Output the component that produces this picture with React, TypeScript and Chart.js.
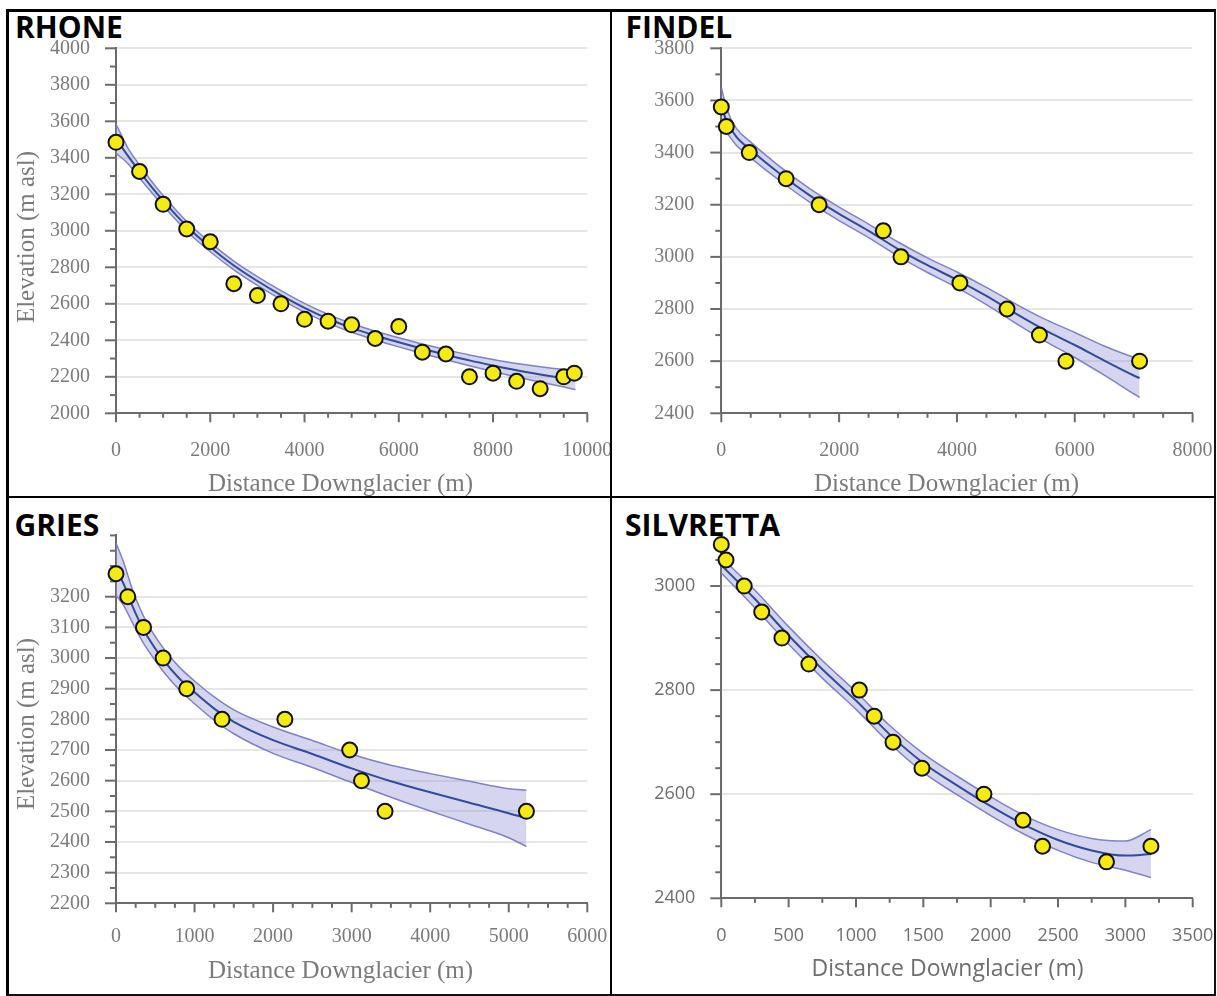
import React, { useEffect, useRef } from "react";
import { Chart, registerables } from "chart.js";

Chart.register(...registerables);

// ---------------- RHONE ----------------
const rhoneDist = [0, 500, 1000, 1500, 2000, 2500, 3000, 3500, 4000, 4500, 5000, 5500, 6000, 6500, 7000, 7500, 8000, 8500, 9000, 9500, 9725];
const rhoneElev = [3485, 3325, 3145, 3010, 2940, 2710, 2645, 2600, 2515, 2505, 2485, 2410, 2475, 2335, 2325, 2200, 2220, 2175, 2135, 2200, 2220];
const rhoneFitDist = [0, 250, 500, 750, 1000, 1500, 2000, 2500, 3000, 3500, 4000, 4500, 5000, 5500, 6000, 6500, 7000, 7500, 8000, 8500, 9000, 9500, 9750];
const rhoneFit = [3505, 3412, 3325, 3242, 3165, 3025, 2910, 2810, 2725, 2648, 2578, 2518, 2468, 2426, 2389, 2354, 2321, 2290, 2262, 2236, 2213, 2192, 2182];
const rhoneUpper = [3585, 3455, 3361, 3273, 3193, 3051, 2935, 2834, 2749, 2672, 2602, 2542, 2492, 2450, 2414, 2380, 2349, 2320, 2295, 2273, 2255, 2240, 2234];
const rhoneLower = [3425, 3369, 3289, 3211, 3137, 2999, 2885, 2786, 2701, 2624, 2554, 2494, 2444, 2402, 2364, 2328, 2293, 2260, 2229, 2199, 2171, 2144, 2130];
const rhoneXTicks = [0, 2000, 4000, 6000, 8000, 10000];
const rhoneYTicks = [2000, 2200, 2400, 2600, 2800, 3000, 3200, 3400, 3600, 3800, 4000];

// ---------------- FINDEL ----------------
const findelDist = [0, 85, 475, 1100, 1660, 2750, 3050, 4050, 4850, 5400, 5850, 7100];
const findelElev = [3575, 3500, 3400, 3300, 3200, 3100, 3000, 2900, 2800, 2700, 2600, 2600];
const findelFitDist = [0, 100, 250, 500, 1000, 1500, 2000, 2500, 3000, 3500, 4000, 4500, 5000, 5500, 6000, 6500, 7000, 7100];
const findelFit = [3572, 3518, 3462, 3410, 3318, 3236, 3165, 3100, 3030, 2968, 2912, 2850, 2782, 2718, 2662, 2602, 2545, 2535];
const findelUpper = [3650, 3563, 3495, 3440, 3345, 3262, 3191, 3126, 3057, 2996, 2942, 2883, 2819, 2760, 2710, 2658, 2615, 2609];
const findelLower = [3494, 3473, 3429, 3380, 3291, 3210, 3139, 3074, 3003, 2940, 2882, 2817, 2745, 2676, 2614, 2546, 2475, 2461];
const findelXTicks = [0, 2000, 4000, 6000, 8000];
const findelYTicks = [2400, 2600, 2800, 3000, 3200, 3400, 3600, 3800];

// ---------------- GRIES ----------------
const griesDist = [0, 150, 350, 600, 900, 1350, 2150, 2975, 3125, 3425, 5225];
const griesElev = [3275, 3200, 3100, 3000, 2900, 2800, 2800, 2700, 2600, 2500, 2500];
const griesFitDist = [0, 100, 200, 300, 400, 600, 800, 1000, 1250, 1500, 2000, 2500, 3000, 3500, 4000, 4500, 5000, 5225];
const griesFit = [3290, 3240, 3175, 3118, 3070, 2995, 2935, 2888, 2835, 2792, 2732, 2687, 2640, 2598, 2562, 2528, 2494, 2477];
const griesUpper = [3375, 3310, 3230, 3165, 3112, 3033, 2972, 2925, 2873, 2831, 2775, 2731, 2686, 2650, 2623, 2598, 2574, 2569];
const griesLower = [3205, 3170, 3120, 3071, 3028, 2957, 2898, 2851, 2797, 2753, 2689, 2643, 2594, 2546, 2501, 2458, 2414, 2385];
const griesXTicks = [0, 1000, 2000, 3000, 4000, 5000, 6000];
const griesYTicks = [2200, 2300, 2400, 2500, 2600, 2700, 2800, 2900, 3000, 3100, 3200];

// ---------------- SILVRETTA ----------------
const silvDist = [0, 35, 170, 300, 450, 650, 1025, 1135, 1275, 1490, 1950, 2240, 2385, 2860, 3190];
const silvElev = [3080, 3050, 3000, 2950, 2900, 2850, 2800, 2750, 2700, 2650, 2600, 2550, 2500, 2470, 2500];
const silvFitDist = [0, 250, 500, 750, 1000, 1250, 1500, 1750, 2000, 2250, 2500, 2750, 3000, 3190];
const silvFit = [3040, 2975, 2905, 2840, 2780, 2715, 2660, 2617, 2577, 2541, 2512, 2492, 2482, 2485];
const silvUpper = [3055, 2992, 2922, 2857, 2797, 2732, 2678, 2635, 2595, 2559, 2532, 2515, 2510, 2532];
const silvLower = [3025, 2958, 2888, 2823, 2763, 2698, 2642, 2599, 2559, 2523, 2492, 2469, 2454, 2440];
const silvXTicks = [0, 500, 1000, 1500, 2000, 2500, 3000, 3500];
const silvYTicks = [2400, 2600, 2800, 3000];

// ---------------- styling ----------------
const PAGE_W = 1217;
const PAGE_H = 996;
const AXIS = "#6b6b6b";
const GRID = "#e6e6e6";
const YELLOW = "#f5ea12";
const LINE = "#2f4c9d";
const EDGE = "#7e82c8";
const BAND = "rgba(150,150,215,0.4)";
const SERIF = '"Liberation Serif", "Times New Roman", serif';
const SANS = '"Open Sans", "Noto Sans", sans-serif';

type Spec = {
  id: string;
  area: { l: number; t: number; r: number; b: number };
  xMin: number; xMax: number; yMin: number; yMax: number;
  xTicks: number[]; yTicks: number[];
  xMinor: number; yMinor: number;
  ptsX: number[]; ptsY: number[];
  fitX: number[]; fit: number[]; upper: number[]; lower: number[];
  font: string; fontSize: number; labelColor: string;
  yPad: number; xPad: number;
};

const specs: Spec[] = [
  {
    id: "rhone", area: { l: 116, t: 48.3, r: 587.3, b: 413.3 },
    xMin: 0, xMax: 10000, yMin: 2000, yMax: 4000,
    xTicks: rhoneXTicks, yTicks: rhoneYTicks, xMinor: 500, yMinor: 100,
    ptsX: rhoneDist, ptsY: rhoneElev, fitX: rhoneFitDist, fit: rhoneFit, upper: rhoneUpper, lower: rhoneLower,
    font: SERIF, fontSize: 20, labelColor: "#7b7b7b", yPad: 26, xPad: 25,
  },
  {
    id: "findel", area: { l: 721.3, t: 48.3, r: 1192.6, b: 413.3 },
    xMin: 0, xMax: 8000, yMin: 2400, yMax: 3800,
    xTicks: findelXTicks, yTicks: findelYTicks, xMinor: 500, yMinor: 100,
    ptsX: findelDist, ptsY: findelElev, fitX: findelFitDist, fit: findelFit, upper: findelUpper, lower: findelLower,
    font: SERIF, fontSize: 20, labelColor: "#7b7b7b", yPad: 27, xPad: 25,
  },
  {
    id: "gries", area: { l: 116, t: 535.4, r: 587.3, b: 903.3 },
    xMin: 0, xMax: 6000, yMin: 2200, yMax: 3400,
    xTicks: griesXTicks, yTicks: griesYTicks, xMinor: 250, yMinor: 50,
    ptsX: griesDist, ptsY: griesElev, fitX: griesFitDist, fit: griesFit, upper: griesUpper, lower: griesLower,
    font: SERIF, fontSize: 20, labelColor: "#7b7b7b", yPad: 26, xPad: 21.7,
  },
  {
    // axis top extends to 3080 so the highest observation is inside the drawing area
    id: "silvretta", area: { l: 721.3, t: 544.4, r: 1192.7, b: 898.3 },
    xMin: 0, xMax: 3500, yMin: 2400, yMax: 3080,
    xTicks: silvXTicks, yTicks: silvYTicks, xMinor: 250, yMinor: 50,
    ptsX: silvDist, ptsY: silvElev, fitX: silvFitDist, fit: silvFit, upper: silvUpper, lower: silvLower,
    font: SANS, fontSize: 18, labelColor: "#6e6e6e", yPad: 26, xPad: 26.5,
  },
];

const tickMarks = {
  id: "tickMarks",
  beforeDatasetsDraw(chart: any, _args: any, opts: any) {
    const { ctx, chartArea, scales } = chart;
    const xs = scales.x;
    const ys = scales.y;
    ctx.save();
    ctx.strokeStyle = AXIS;
    ctx.lineWidth = 2;
    for (let v = xs.min; v <= xs.max + 1e-6; v += opts.xMinor) {
      const px = xs.getPixelForValue(v);
      const len = opts.xMajor.includes(v) ? 9 : 4.5;
      ctx.beginPath();
      ctx.moveTo(px, chartArea.bottom);
      ctx.lineTo(px, chartArea.bottom + len);
      ctx.stroke();
    }
    for (let v = ys.min; v <= ys.max + 1e-6; v += opts.yMinor) {
      const py = ys.getPixelForValue(v);
      const len = opts.yMajor.includes(v) ? 11 : 6;
      ctx.beginPath();
      ctx.moveTo(chartArea.left, py);
      ctx.lineTo(chartArea.left - len, py);
      ctx.stroke();
    }
    ctx.restore();
  },
};

function buildConfig(p: Spec): any {
  const pts = p.ptsX.map((x, i) => ({ x, y: p.ptsY[i] }));
  const fit = p.fitX.map((x, i) => ({ x, y: p.fit[i] }));
  const up = p.fitX.map((x, i) => ({ x, y: p.upper[i] }));
  const lo = p.fitX.map((x, i) => ({ x, y: p.lower[i] }));
  const tickFont = { family: p.font, size: p.fontSize };
  const X_H = 60;
  return {
    type: "line",
    data: {
      datasets: [
        {
          label: "observed",
          data: pts,
          showLine: false,
          pointRadius: 7.5,
          pointBackgroundColor: YELLOW,
          pointBorderColor: "#111111",
          pointBorderWidth: 2,
          clip: false,
          order: 0,
        },
        {
          label: "fit",
          data: fit,
          borderColor: LINE,
          borderWidth: 2,
          pointRadius: 0,
          fill: false,
          cubicInterpolationMode: "monotone",
          order: 1,
        },
        {
          label: "upper",
          data: up,
          borderColor: EDGE,
          borderWidth: 1.5,
          pointRadius: 0,
          fill: "+1",
          backgroundColor: BAND,
          cubicInterpolationMode: "monotone",
          order: 2,
        },
        {
          label: "lower",
          data: lo,
          borderColor: EDGE,
          borderWidth: 1.5,
          pointRadius: 0,
          fill: false,
          cubicInterpolationMode: "monotone",
          order: 3,
        },
      ],
    },
    options: {
      responsive: false,
      animation: false,
      devicePixelRatio: 1,
      events: [],
      layout: {
        padding: { left: 0, top: p.area.t, right: PAGE_W - p.area.r, bottom: PAGE_H - p.area.b - X_H },
      },
      plugins: {
        legend: { display: false },
        tooltip: { enabled: false },
        title: { display: false },
        filler: { drawTime: "beforeDatasetsDraw" },
        tickMarks: { xMinor: p.xMinor, yMinor: p.yMinor, xMajor: p.xTicks, yMajor: p.yTicks },
      },
      scales: {
        x: {
          type: "linear",
          position: "bottom",
          min: p.xMin,
          max: p.xMax,
          afterBuildTicks: (s: any) => {
            s.ticks = p.xTicks.map((v) => ({ value: v }));
          },
          afterFit: (s: any) => {
            s.height = X_H;
            s.paddingLeft = 0;
            s.paddingRight = 0;
          },
          grid: { display: true, color: "rgba(0,0,0,0)", drawTicks: false, lineWidth: 1 },
          border: { display: true, color: AXIS, width: 2 },
          ticks: {
            color: p.labelColor,
            font: tickFont,
            padding: p.xPad,
            maxRotation: 0,
            minRotation: 0,
            autoSkip: false,
            callback: (v: any) => String(v),
          },
        },
        y: {
          type: "linear",
          position: "left",
          min: p.yMin,
          max: p.yMax,
          afterBuildTicks: (s: any) => {
            s.ticks = p.yTicks.map((v) => ({ value: v }));
          },
          afterFit: (s: any) => {
            s.width = p.area.l;
            s.paddingTop = 0;
            s.paddingBottom = 0;
          },
          grid: { display: true, color: GRID, lineWidth: 2, drawTicks: false },
          border: { display: true, color: AXIS, width: 2 },
          ticks: {
            color: p.labelColor,
            font: tickFont,
            padding: p.yPad,
            autoSkip: false,
            callback: (v: any) => String(v),
          },
        },
      },
    },
    plugins: [tickMarks],
  };
}

function GlacierChart({ spec }: { spec: Spec }) {
  const ref = useRef<HTMLCanvasElement | null>(null);
  useEffect(() => {
    if (!ref.current) return;
    const chart = new Chart(ref.current, buildConfig(spec));
    return () => chart.destroy();
  }, [spec]);
  return (
    <canvas
      ref={ref}
      width={PAGE_W}
      height={PAGE_H}
      style={{ position: "absolute", left: 0, top: 0, width: PAGE_W, height: PAGE_H }}
    />
  );
}

const panelTitles = [
  { text: "RHONE", left: 15, top: 12.4 },
  { text: "FINDEL", left: 625.5, top: 12.4 },
  { text: "GRIES", left: 14.5, top: 510.1 },
  { text: "SILVRETTA", left: 625, top: 510.1 },
];

const xTitles = [
  { cx: 340.5, top: 469.8, font: SERIF, size: 25, color: "#7b7b7b" },
  { cx: 946.5, top: 469.8, font: SERIF, size: 25, color: "#7b7b7b" },
  { cx: 340.5, top: 957.4, font: SERIF, size: 25, color: "#7b7b7b" },
  { cx: 947.5, top: 955.6, font: SANS, size: 23, color: "#6e6e6e" },
];

const yTitles = [
  { cx: 24.9, cy: 236.7 },
  { cx: 24.9, cy: 724.2 },
];

const lines = [
  { left: 6, top: 9, width: 1210, height: 2.5, color: "#000" },
  { left: 6, top: 9, width: 2.5, height: 987, color: "#000" },
  { left: 609.5, top: 9, width: 2.5, height: 987, color: "#000" },
  { left: 1213.5, top: 9, width: 2.5, height: 987, color: "#111" },
  { left: 6, top: 495.5, width: 1210, height: 2.5, color: "#000" },
  { left: 6, top: 993.5, width: 1210, height: 2.5, color: "#111" },
];

export default function App() {
  return (
    <div
      style={{
        position: "absolute",
        left: 0,
        top: 0,
        width: PAGE_W,
        height: PAGE_H,
        background: "#ffffff",
        overflow: "hidden",
      }}
    >
      {panelTitles.map((t) => (
        <div
          key={t.text}
          style={{
            position: "absolute",
            left: t.left,
            top: t.top,
            fontFamily: SANS,
            fontWeight: 700,
            fontSize: 30,
            lineHeight: "30px",
            color: "#000",
            whiteSpace: "nowrap",
          }}
        >
          {t.text}
        </div>
      ))}
      {specs.map((s) => (
        <GlacierChart key={s.id} spec={s} />
      ))}
      {xTitles.map((t, i) => (
        <div
          key={"xt" + i}
          style={{
            position: "absolute",
            left: t.cx - 300,
            top: t.top,
            width: 600,
            textAlign: "center",
            fontFamily: t.font,
            fontSize: t.size,
            lineHeight: t.size + "px",
            color: t.color,
            whiteSpace: "nowrap",
          }}
        >
          Distance Downglacier (m)
        </div>
      ))}
      {yTitles.map((t, i) => (
        <div
          key={"yt" + i}
          style={{
            position: "absolute",
            left: t.cx,
            top: t.cy,
            width: 400,
            height: 25,
            textAlign: "center",
            fontFamily: SERIF,
            fontSize: 25,
            lineHeight: "25px",
            color: "#7b7b7b",
            whiteSpace: "nowrap",
            transform: "translate(-50%, -50%) rotate(-90deg)",
          }}
        >
          Elevation (m asl)
        </div>
      ))}
      {lines.map((l, i) => (
        <div
          key={"ln" + i}
          style={{
            position: "absolute",
            left: l.left,
            top: l.top,
            width: l.width,
            height: l.height,
            background: l.color,
          }}
        />
      ))}
    </div>
  );
}
